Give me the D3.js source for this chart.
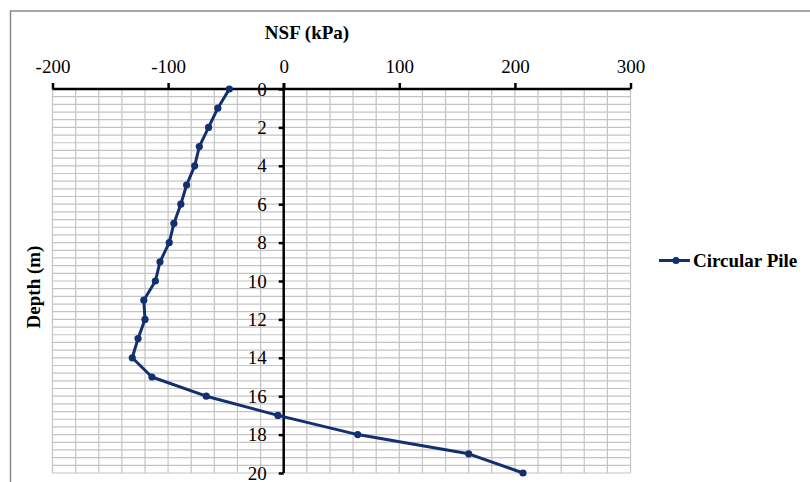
<!DOCTYPE html>
<html>
<head>
<meta charset="utf-8">
<script src="https://cdn.jsdelivr.net/npm/d3@7"></script>
<style>
  html, body { margin: 0; padding: 0; background: #fff; }
  svg { display: block; }
  text { font-family: "Liberation Serif", "Times New Roman", serif; fill: #000; }
</style>
</head>
<body>
<svg id="chart" width="810" height="482"></svg>
<script>
// Negative skin friction profile along a circular pile
const depths = [0, 1, 2, 3, 4, 5, 6, 7, 8, 9, 10, 11, 12, 13, 14, 15, 16, 17, 18, 19, 20];
const nsf = [-47, -57, -65, -73, -77, -84, -89, -95, -99, -107, -111, -121, -120, -126, -131, -114, -67, -5, 64, 160, 207];
const xTicks = [-200, -100, 0, 100, 200, 300];
const yTicks = [0, 2, 4, 6, 8, 10, 12, 14, 16, 18, 20];
const seriesName = "Circular Pile";
const xTitle = "NSF (kPa)";
const yTitle = "Depth (m)";

const svg = d3.select("#chart");
const W = 810, H = 482;
const plot = { left: 52.5, right: 630.5, top: 89, bottom: 473 };
const navy = "#13306e";

const x = d3.scaleLinear().domain([-200, 300]).range([plot.left, plot.right]);
const y = d3.scaleLinear().domain([0, 20]).range([plot.top, plot.bottom]);
const plain = d => String(d);

// chart frame
svg.append("rect")
  .attr("x", 10.5).attr("y", 11)
  .attr("width", W).attr("height", H)
  .attr("fill", "#fff").attr("stroke", "#8a8a8a").attr("stroke-width", 1.5);

// gridlines (minor units: 20 kPa, 0.4 m)
const grid = svg.append("g").attr("stroke", "#c4c4c4").attr("stroke-width", 1.2);
grid.selectAll("line.v").data(d3.range(-200, 301, 20)).join("line")
  .attr("x1", d => x(d)).attr("x2", d => x(d))
  .attr("y1", plot.top).attr("y2", plot.bottom);
grid.selectAll("line.h").data(d3.range(0, 51).map(i => i * 0.4)).join("line")
  .attr("x1", plot.left).attr("x2", plot.right)
  .attr("y1", d => y(d)).attr("y2", d => y(d));

// top value axis
const xAxis = svg.append("g").attr("transform", `translate(0,${plot.top})`)
  .call(d3.axisTop(x).tickValues(xTicks).tickSize(6).tickPadding(10).tickFormat(plain));
xAxis.select(".domain").attr("stroke", "#000").attr("stroke-width", 2.5)
  .attr("d", `M${plot.left},0H${plot.right}`);
xAxis.selectAll(".tick line").attr("stroke", "#000").attr("stroke-width", 2.5);
xAxis.selectAll(".tick text").attr("font-size", 19)
  .attr("font-family", "Liberation Serif, serif").attr("fill", "#000");

// depth axis crossing at zero
const yAxis = svg.append("g").attr("transform", `translate(${x(0)},0)`)
  .call(d3.axisLeft(y).tickValues(yTicks).tickSize(5).tickPadding(12).tickFormat(plain));
yAxis.select(".domain").attr("stroke", "#000").attr("stroke-width", 2.5)
  .attr("d", `M0,${plot.top - 6}V${plot.bottom}`);
yAxis.selectAll(".tick line").attr("stroke", "#000").attr("stroke-width", 2.5);
yAxis.selectAll(".tick text").attr("font-size", 19)
  .attr("font-family", "Liberation Serif, serif").attr("fill", "#000");

// axis titles
svg.append("text").attr("x", 307).attr("y", 38.5)
  .attr("text-anchor", "middle").attr("font-size", 19).attr("font-weight", "bold")
  .text(xTitle);
svg.append("text")
  .attr("transform", "translate(40,287) rotate(-90)")
  .attr("text-anchor", "middle").attr("font-size", 19).attr("font-weight", "bold")
  .text(yTitle);

// series
const pts = depths.map((d, i) => ({ depth: d, v: nsf[i] }));
svg.append("path").datum(pts)
  .attr("fill", "none").attr("stroke", navy).attr("stroke-width", 3)
  .attr("stroke-linejoin", "round")
  .attr("d", d3.line().x(d => x(d.v)).y(d => y(d.depth)));
svg.append("g").selectAll("circle").data(pts).join("circle")
  .attr("cx", d => x(d.v)).attr("cy", d => y(d.depth)).attr("r", 3.6)
  .attr("fill", navy);

// legend
const lg = svg.append("g").attr("transform", "translate(659,260.5)");
lg.append("line").attr("x1", 0).attr("x2", 31).attr("y1", 0).attr("y2", 0)
  .attr("stroke", navy).attr("stroke-width", 3);
lg.append("circle").attr("cx", 17).attr("cy", 0).attr("r", 3.6).attr("fill", navy);
lg.append("text").attr("x", 34).attr("y", 6.5)
  .attr("font-size", 19).attr("font-weight", "bold").text(seriesName);
</script>
</body>
</html>
